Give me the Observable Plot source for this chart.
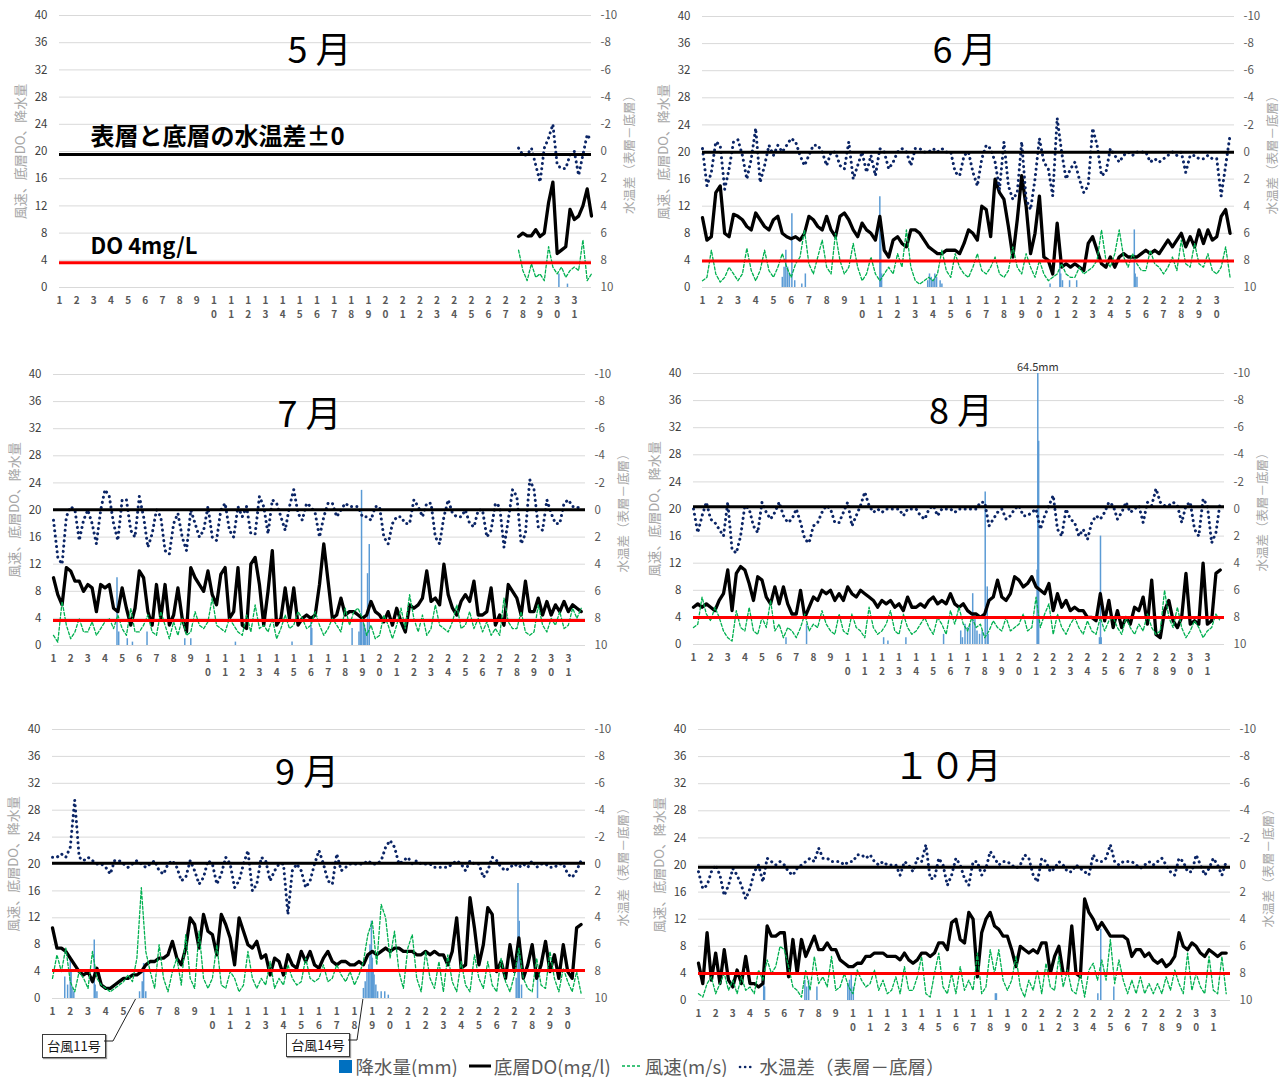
<!DOCTYPE html>
<html><head><meta charset="utf-8">
<script src="https://cdn.jsdelivr.net/npm/d3@7"></script>
<script src="https://cdn.jsdelivr.net/npm/@observablehq/plot@0.6"></script>
<style>
body{margin:0;background:#fff;font-family:"Noto Sans CJK JP","Noto Sans",sans-serif;}
#root{position:relative;width:1283px;height:1077px;overflow:hidden;background:#fff;}
.callout{position:absolute;border:1px solid #3a3a3a;background:#fff;font-size:13px;line-height:21px;text-align:center;color:#111;box-shadow:1px 1px 1px #999;}
#legend{position:absolute;left:0;top:1055px;width:1283px;height:21px;display:flex;justify-content:center;align-items:center;font-size:18.5px;line-height:20px;color:#595959;white-space:nowrap;}
#legend .li{display:flex;align-items:center;margin:0 5px;}
#legend svg{margin-right:2px;}
</style></head><body><div id="root"></div>
<script>
// ---------- text ----------
const monthTitles = ["5 月", "6 月", "7 月", "8 月", "9 月", "１０月"];
const leftAxisTitle = "風速、底層DO、降水量";
const rightAxisTitle = "水温差（表層－底層）";
const legendLabels = ["降水量(mm)", "底層DO(mg/l)", "風速(m/s)", "水温差（表層－底層）"];
const typhoonLabels = ["台風11号", "台風14号"];
const typhoonDays = [5.7, 18.5];
const mayNotes = ["表層と底層の水温差±0", "DO 4mg/L"];

// ---------- axes ----------
const leftTicks = [0, 4, 8, 12, 16, 20, 24, 28, 32, 36, 40];
const daysInMonth = [31, 30, 31, 31, 30, 31];
const sampleStart = [27.75, 1, 1, 1, 1, 1];   // day of first sample
const sampleStep = 0.25;                     // 6-hourly readings

// reference lines (left-axis units, as drawn)
const zeroLineLevel = [19.55, 19.95, 20.05, 20.35, 20.1, 19.65];
const do4Level = [3.65, 3.9, 3.7, 4.0, 4.15, 4.0];

// ---------- May ----------
const doMay = [7.5, 8.0, 7.6, 7.6, 8.5, 7.5, 8.0, 12.5, 15.5, 5.0, 5.5, 6.0, 11.5, 10.0, 10.5, 12.0, 14.5, 10.5];
const windMay = [5.5, 2.5, 1.0, 3.5, 1.5, 2.0, 1.0, 6.0, 3.0, 2.0, 3.0, 1.5, 2.5, 3.0, 2.5, 7.0, 1.0, 2.0];
const tdMay = [-0.25, 0.25, 0.25, -0.25, 1, 2.25, -0.25, -1, -2, 1, 1.25, 1.25, 0.25, 0, 1.75, 0.25, -1.25, -0.75];
const rainDayMay = [30.1, 30.6];
const rainMmMay = [2.0, 0.5];

// ---------- June ----------
const doJun = [
 10.3,7.0,7.5,14.0, 15.0,8.0,7.5,10.8, 10.5,10.0,9.0,8.5, 11.0,10.0,9.0,8.5,
 10.0,10.5,8.0,7.5, 7.2,7.5,7.0,8.0, 10.5,10.0,9.0,8.5, 10.5,8.5,7.5,10.5,
 11.0,10.0,8.5,7.5, 9.5,8.5,8.0,7.0, 10.5,5.5,4.5,7.0, 7.5,6.5,6.0,8.5,
 8.5,8.0,7.0,6.0, 5.5,5.0,5.0,5.5, 5.5,5.5,5.0,6.5, 8.5,8.0,7.0,12.0,
 11.5,7.5,16.0,14.0, 13.0,9.0,4.5,10.0, 16.5,12.0,5.0,8.0, 13.5,4.5,4.0,2.0,
 9.5,3.0,3.5,3.0, 3.5,3.0,2.5,6.5, 7.5,5.5,3.5,3.0, 4.5,3.0,4.5,5.0,
 4.5,4.5,4.5,5.0, 5.5,5.0,5.5,5.0, 6.0,7.0,6.0,7.0, 8.0,6.0,7.5,6.0,
 8.5,6.5,8.5,7.0, 7.5,10.5,11.5,8.0];
const windJun = [
 1.0,1.5,5.5,2.0, 0.8,1.5,3.0,2.0, 1.0,2.0,5.8,2.5, 1.0,2.5,5.5,2.5,
 1.5,3.0,5.0,3.0, 1.5,3.5,4.5,8.5, 3.5,2.0,4.5,7.0, 3.0,2.0,8.0,4.0,
 2.0,3.0,6.5,3.0, 1.0,2.0,4.5,2.0, 1.0,2.0,3.0,2.0, 5.0,3.0,8.5,3.0,
 1.0,0.5,1.0,1.5, 1.0,2.0,5.5,2.5, 1.5,5.0,3.0,2.0, 1.5,3.0,5.0,2.5,
 2.0,3.0,4.5,2.0, 1.5,2.5,6.0,3.0, 2.0,5.0,3.0,1.5, 4.0,2.0,1.0,1.5,
 2.0,3.5,2.0,1.5, 1.5,3.0,2.0,2.5, 3.0,4.0,8.5,4.0, 3.0,5.0,8.5,4.5,
 3.0,5.0,3.5,2.5, 2.5,5.5,3.5,3.0, 2.0,3.0,4.5,2.5, 7.0,3.5,3.0,6.5,
 3.5,3.0,5.0,2.5, 2.0,3.0,6.0,1.5];
const tdJun = [
 -0.25,2.5,1.5,-0.75, -0.5,2.75,1.25,-0.75, -0.9,0.25,2,0.5, -1.75,2.25,1.0,-0.5,
 0.25,-0.5,0,-0.5, -1,-0.75,0.25,1, 0.25,-0.5,-0.5,0, 1,0,0,1,
 1.25,-0.75,2,1, 0,1.5,0.25,1.75, -0.25,0,1.25,0.75, 0,-0.25,0,1,
 -0.25,-0.25,0,0, -0.25,0,-0.25,0, 0,1.5,1.75,0.25, 0,1.5,2.5,0.5,
 -0.5,-0.25,0.75,2.75, -0.75,2.5,3.5,3, -0.75,3.5,4.25,2, -1,0.75,1.25,3.25,
 -2.5,0,2,1.25, 0.75,2,3,2.5, -1.75,-0.5,1.75,1.5, -0.25,0.25,0.75,0.25,
 0,0.25,0,0, 0,0.75,0.5,0.75, 0.5,0.25,0,0.25, 0,1.5,0.25,0.25,
 0.5,0.5,0.25,0.5, 0.5,3.25,1.0,-1.25];
const rainDayJun = [5.5, 5.6, 5.7, 5.8, 5.9, 6.04, 6.2, 6.6, 6.8, 11.0, 11.05, 11.1, 13.7, 13.8, 13.9, 14.0, 14.1, 14.2, 14.4, 14.5, 20.6, 21.15, 21.2, 21.3, 21.7, 22.1, 25.35, 25.4, 25.5];
const rainMmJun = [1.5, 3.0, 5.5, 3.0, 2.0, 10.9, 1.0, 0.5, 2.0, 13.4, 8.0, 2.0, 1.0, 2.0, 1.5, 1.0, 2.0, 1.5, 1.0, 0.5, 0.5, 4.0, 2.0, 1.0, 1.0, 1.0, 8.5, 2.0, 1.5];

// ---------- July ----------
const doJul = [
 10.0,7.5,6.0,11.5, 11.0,9.5,9.5,8.0, 9.0,8.5,5.0,9.0, 8.5,9.0,5.5,5.0,
 8.5,5.5,3.0,5.5, 11.0,10.0,5.0,3.0, 9.0,4.0,9.0,3.0, 4.5,8.5,4.0,2.0,
 11.5,10.0,9.0,8.0, 11.0,7.5,6.0,10.5, 11.5,4.0,5.0,11.5, 3.0,2.5,12.0,13.0,
 9.0,3.0,8.0,14.0, 3.0,4.0,8.5,4.0, 8.5,3.0,4.0,4.5, 4.0,4.5,9.0,15.0,
 9.5,4.0,4.5,7.0, 4.5,5.0,5.0,4.5, 4.0,4.5,6.5,5.0, 4.5,3.5,5.0,3.0,
 5.5,3.5,2.0,6.0, 5.5,6.0,7.0,11.0, 6.5,7.0,6.0,12.0, 7.5,5.5,4.5,6.5,
 7.5,6.5,9.5,4.5, 4.5,5.0,8.5,3.0, 4.5,3.0,9.0,8.0, 7.0,4.5,9.5,5.0,
 5.0,7.0,4.5,6.5, 4.5,6.0,5.0,6.5, 5.0,6.0,5.5,5.0];
const windJul = [
 1.5,0.5,6.5,3.0, 1.0,2.0,4.0,2.0, 2.0,3.5,1.5,2.5, 3.5,4.0,2.5,4.5,
 2.5,1.5,5.5,2.0, 2.0,3.0,4.5,2.0, 1.5,5.0,3.0,1.0, 3.5,1.5,4.0,1.5,
 2.0,5.0,3.0,2.5, 3.5,7.0,3.0,2.5, 2.0,4.0,3.0,2.0, 1.5,4.5,2.0,6.0,
 2.5,3.0,2.0,4.0, 1.0,2.5,4.5,2.5, 3.0,5.0,4.0,2.5, 3.0,5.0,3.0,1.5,
 2.5,4.0,3.0,2.0, 5.5,3.0,5.0,5.5, 4.0,1.5,3.0,1.0, 1.5,4.5,3.0,1.0,
 3.0,5.5,2.5,7.5, 4.0,2.0,4.5,1.5, 2.5,6.0,3.0,2.5, 2.0,3.5,6.0,2.5,
 3.0,5.0,2.5,4.0, 2.0,3.5,1.5,2.5, 1.5,7.0,3.5,2.5, 2.5,5.0,2.0,1.5,
 2.0,6.0,3.0,2.0, 4.0,3.0,5.0,2.5, 3.0,5.5,4.0,5.5];
const tdJul = [
 0.75,3.5,4,0.5, -0.25,0,2.25,0.75, 0,1,2.5,0, -1.5,-1,1,2.25,
 -0.75,-0.75,1.5,2, -1,0.5,2.75,1.75, 0,0.5,3,3.25, 1,0.25,2,3,
 0,1,2,1.5, -0.25,2,2.25,0, -0.5,1.5,2,-0.25, 0.5,-0.25,1.75,1.75,
 -1,-0.25,1.75,-0.75, -0.5,0.5,1.5,-0.25, -1.5,0.25,0.75,-0.5, -0.25,0.25,2,0.5,
 -0.5,-0.5,0.5,0, -0.5,-0.25,-0.25,-0.25, 0.5,0.5,0.75,-0.25, -0.25,2,2.5,1,
 0.5,0.5,1,1, -0.75,-0.25,0.5,-0.5, -0.5,2,2.5,0.5, -0.75,0.25,0.5,0.5,
 0,1,1.25,0, 0,2,1.5,-0.5, -0.25,2.75,0.75,-1.5, -1,2.5,1.75,-2.25,
 -1.5,1.25,1.5,-0.75, 0.25,1,1,-0.5, -0.75,-0.25,-0.25,0];
const rainDayJul = [4.7, 4.8, 5.3, 5.6, 6.45, 8.65, 9.0, 11.6, 14.9, 16.0, 16.05, 18.4, 18.8, 18.88, 18.95, 19.05, 19.12, 19.2, 19.3, 19.4];
const rainMmJul = [10.0, 2.0, 1.0, 0.5, 2.0, 1.0, 1.0, 0.5, 0.5, 3.5, 2.5, 2.5, 2.0, 3.5, 22.9, 4.0, 3.0, 2.0, 10.6, 14.9];

// ---------- August ----------
const doAug = [
 5.5,6.0,5.5,6.0, 5.5,5.0,6.5,7.5, 11.0,5.0,10.5,11.5, 11.0,9.0,6.5,10.0,
 9.5,7.0,6.0,8.5, 6.0,8.5,6.0,4.5, 4.5,8.0,4.0,5.5, 7.0,6.5,8.0,7.5,
 8.0,6.5,7.5,6.5, 8.5,7.5,7.0,8.0, 7.5,7.0,6.5,5.5, 6.5,6.0,6.5,5.5,
 6.0,5.0,7.0,5.5, 5.5,6.0,5.5,6.5, 7.0,6.0,6.5,6.0, 7.5,6.0,5.5,6.0,
 5.0,4.5,4.5,4.0, 4.5,6.5,7.0,9.5, 7.0,6.5,7.5,10.0, 9.5,8.5,9.0,10.0,
 8.5,8.0,7.5,9.0, 5.0,7.5,5.5,6.5, 5.0,5.5,5.0,5.0, 4.0,4.0,3.5,7.5,
 3.5,6.5,2.5,5.0, 2.5,4.0,3.0,5.5, 5.0,7.0,3.0,9.5, 1.5,1.0,5.0,6.5,
 3.5,2.5,4.0,10.5, 3.0,3.5,3.0,12.0, 3.0,3.5,10.5,11.0];
const windAug = [
 2.5,3.0,7.0,4.5, 3.5,5.5,4.0,2.0, 1.0,0.5,5.0,2.5, 2.0,5.5,2.0,1.5,
 4.0,2.5,6.5,2.0, 3.0,1.0,2.5,2.0, 1.0,2.5,4.5,2.0, 3.0,2.5,5.0,3.0,
 2.0,1.5,4.5,2.0, 1.5,4.5,2.5,2.0, 1.0,5.5,2.5,1.5, 2.0,3.0,5.0,2.0,
 1.5,4.5,2.5,1.5, 2.0,3.0,4.0,2.5, 1.5,4.0,3.0,1.5, 5.0,3.0,5.5,3.0,
 2.0,4.0,2.5,3.0, 1.0,2.0,3.5,2.5, 2.0,4.0,2.0,2.5, 3.0,4.5,2.0,2.5,
 7.0,2.5,4.5,6.0, 1.5,4.5,2.5,1.5, 3.0,4.0,2.5,1.5, 3.5,2.0,1.5,4.0,
 2.0,3.5,4.0,2.5, 1.5,4.0,2.5,1.5, 3.0,2.0,4.5,2.5, 1.5,2.0,8.0,4.0,
 2.5,5.5,2.5,1.0, 2.0,3.5,2.5,1.0, 2.0,2.5,4.5,3.5];
const tdAug = [
 0,1.75,0.5,-0.5, 0.75,1,1.5,2, -0.5,3,3.25,2, -0.25,0,1.25,1.75,
 -0.5,0.25,0.75,0.25, -0.5,0.5,1,0.75, 0,1,2.25,2.5, 1.25,1,0.25,-0.25,
 0,1,1,0.25, -0.5,1.25,0.5,-0.25, -1.25,-0.25,0.25,0, 0.25,0,0,0,
 0,0.5,0,0, 0,0.5,0.75,0, -0.25,0.5,0,0, 0,0.25,0,0,
 0,0,0,-0.5, -0.5,1.25,0.75,0.25, 0,0.75,0.5,0, -0.25,0.5,0.5,0.25,
 0,1.5,0.5,-0.25, -1,1.5,2,0, 0.75,1,2,1.5, 2.25,1,0.5,0.75,
 0.25,-0.5,-0.25,0.75, 0.25,-0.5,0.25,0, -0.25,1,-0.5,-0.25, -1.5,-0.5,-0.25,-0.25,
 -0.5,-0.25,1,-0.25, -0.5,1.5,2,-0.75, -0.25,2.5,1.75,-0.5];
const rainDayAug = [6.4, 7.6, 12.1, 12.35, 13.4, 15.6, 16.6, 16.7, 16.85, 17.0, 17.14, 17.3, 17.43, 17.55, 17.7, 17.85, 18.03, 18.15, 18.2, 21.06, 21.1, 21.15, 24.7, 24.76, 24.8];
const rainMmAug = [1.0, 3.0, 1.0, 0.5, 1.0, 1.5, 2.0, 1.0, 3.0, 2.5, 3.0, 7.5, 4.0, 2.0, 1.5, 2.0, 22.5, 8.5, 1.5, 11.0, 64.5, 30.0, 1.0, 16.0, 1.0];

// ---------- September ----------
const doSep = [
 10.5,7.5,7.5,7.0, 6.0,5.0,4.0,3.5, 4.0,2.5,4.5,2.0, 1.5,1.5,2.0,2.5,
 3.0,3.0,3.5,3.5, 4.0,5.0,5.5,5.5, 6.0,6.0,6.5,8.5, 6.0,5.0,7.5,12.0,
 11.0,7.5,12.5,10.0, 9.5,6.5,12.5,11.0, 9.0,5.0,12.0,10.0, 8.0,7.5,8.5,6.0,
 6.5,3.5,6.0,5.5, 3.5,6.5,5.0,4.5, 7.0,5.5,7.0,5.0, 4.5,6.0,7.0,5.5,
 5.0,5.5,5.5,5.0, 5.0,5.5,5.0,6.5, 7.0,6.5,7.0,7.5, 7.0,7.5,7.5,7.0,
 7.0,7.0,6.5,6.5, 7.0,6.5,7.0,6.5, 6.5,5.0,7.0,12.0, 4.5,5.0,15.0,10.5,
 5.0,8.0,13.5,12.5, 4.0,5.5,3.0,8.0, 4.0,9.0,3.0,5.0, 8.0,3.0,5.0,8.5,
 4.0,6.5,3.0,8.0, 4.0,3.0,10.5,11.0];
const windSep = [
 3.0,6.5,4.0,7.5, 2.5,1.0,4.0,3.0, 1.5,7.0,3.0,2.0, 1.5,1.0,1.5,2.0,
 2.5,3.5,2.5,6.0, 16.5,7.0,4.0,1.5, 8.0,3.0,1.0,4.0, 6.0,2.0,9.5,3.0,
 1.5,10.0,3.0,1.5, 3.0,8.0,2.0,1.5, 4.0,3.0,1.0,2.0, 7.0,3.0,1.5,3.0,
 2.0,5.5,1.5,3.0, 2.0,5.0,3.0,2.0, 2.5,6.0,3.0,2.5, 3.0,5.0,2.5,3.0,
 5.0,3.5,2.5,4.0, 2.0,3.5,5.5,9.5, 11.5,5.0,14.0,12.0, 6.0,10.0,4.0,1.5,
 7.5,9.5,3.0,1.0, 7.0,3.0,1.5,5.5, 1.0,6.5,2.5,1.0, 5.5,2.0,1.0,6.5,
 3.0,1.5,5.5,2.0, 1.0,6.0,2.5,1.0, 3.5,7.5,3.0,1.5, 1.0,6.0,2.0,1.5,
 7.0,3.0,1.0,4.5, 2.5,1.0,4.0,0.8];
const tdSep = [
 -0.5,-0.5,-0.75,-0.5, -1.25,-4.75,-0.5,-0.25, -0.5,-0.25,0,0, 0.25,0.75,-0.25,-0.25,
 0,0.25,0,-0.25, 0,0.25,0,-0.25, 0.5,0.75,0,-0.25, 0.25,1.25,1,-0.25,
 0.5,1.5,1,-0.25, 0,1.5,0.75,-0.5, 0,1.75,1.25,0, -1,2,1.5,-0.5,
 -0.25,1.25,0.5,0, 0,3.75,0.5,0, 0.5,1.75,1.25,0, -1,0,1.25,1.5,
 -0.75,0.5,0.25,0, 0,0,0,-0.25, 0,0,-0.25,-1.25, -1.75,-1.25,0,-0.25,
 -0.5,0,-0.25,0, 0,0,0.25,0.25, 0.25,0.25,0,-0.25, 0,0.5,-0.25,0,
 0,1,0.5,-0.5, -0.25,0.25,0.5,0.25, 0,0.25,0,0.25, -0.25,0.25,0,0,
 0.25,0.25,0,0, 0.75,1,0.5,-0.25];
const rainDaySep = [1.69, 1.85, 2.0, 2.05, 2.1, 2.2, 3.35, 3.4, 3.5, 5.9, 6.05, 6.13, 6.25, 18.5, 18.6, 18.7, 18.8, 18.87, 18.95, 19.0, 19.05, 19.1, 19.2, 19.3, 19.5, 19.7, 19.9, 27.1, 27.2, 27.24, 27.27, 27.4, 28.3];
const rainMmSep = [3.2, 2.0, 6.0, 4.0, 1.5, 1.0, 8.7, 2.0, 1.0, 1.0, 2.5, 5.2, 1.0, 1.5, 2.5, 4.0, 5.0, 8.0, 11.5, 6.0, 4.0, 3.5, 2.0, 1.0, 1.0, 1.0, 0.5, 3.0, 17.1, 5.0, 11.5, 2.0, 3.2];

// ---------- October ----------
const doOct = [
 5.5,2.5,10.0,3.0, 7.0,2.5,7.5,3.0, 2.0,4.5,2.5,6.5, 2.5,2.5,2.0,2.5,
 11.0,9.5,9.5,10.0, 10.0,3.5,9.0,4.0, 9.0,6.5,8.0,9.5, 7.5,7.5,8.5,7.5,
 7.5,6.0,5.5,5.0, 5.0,5.5,5.5,6.5, 6.5,7.0,7.0,7.0, 6.5,6.5,6.5,6.0,
 7.0,6.0,5.5,6.0, 7.0,7.0,6.5,7.0, 8.5,8.5,7.5,11.5, 12.0,9.0,8.5,13.0,
 12.0,3.5,10.0,12.0, 13.0,11.0,10.5,9.5, 9.5,7.5,5.0,8.0, 7.5,7.0,7.5,7.0,
 8.5,8.5,4.0,6.5, 8.0,4.0,4.0,11.0, 4.0,3.5,15.0,13.0, 12.0,10.5,11.5,10.5,
 9.5,9.5,9.5,9.5, 9.0,6.5,7.5,7.5, 6.5,7.0,6.0,5.5, 6.0,5.0,5.5,6.5,
 10.0,8.0,7.5,8.5, 8.0,7.0,6.5,7.5, 7.0,6.5,7.0,7.0];
const windOct = [
 1.0,0.5,2.5,3.5, 1.0,2.5,4.0,1.5, 3.0,1.0,3.5,1.5, 2.0,1.0,4.5,3.0,
 6.0,4.0,5.0,8.0, 7.5,5.0,2.0,1.5, 0.5,4.5,1.5,6.5, 2.5,3.5,2.0,6.5,
 1.5,2.0,4.0,2.0, 1.0,4.5,3.0,2.0, 2.5,4.5,1.5,3.0, 1.0,1.5,3.5,1.0,
 5.0,1.5,1.5,3.5, 6.5,1.0,0.5,4.0, 7.0,2.0,1.0,4.0, 1.0,5.0,1.5,3.0,
 1.5,7.0,1.0,2.0, 7.5,4.0,7.5,3.0, 1.5,3.0,6.5,2.0, 0.5,3.0,1.5,4.5,
 1.0,5.5,2.0,1.5, 6.5,2.0,4.5,1.5, 1.0,4.0,0.5,4.5, 5.5,3.0,6.0,3.0,
 9.0,2.5,6.0,3.0, 1.0,3.0,1.0,3.5, 1.0,2.5,1.0,2.5, 1.0,3.5,1.5,4.5,
 2.5,1.0,7.0,1.5, 4.0,2.0,1.0,6.5, 1.5,1.0,6.5,1.0];
const tdOct = [
 0.5,1.75,1.5,0.5, 0,0.75,2.25,1.5, 0.25,0.75,1.5,2.5, 1.75,0.5,0,1.25,
 -0.5,-0.25,0,-0.25, 0,0.5,0.75,0.25, 0,-0.25,-0.5,-0.25, -1.25,-0.5,-0.5,-0.25,
 -0.25,-0.25,0,-0.25, -0.25,-0.75,-0.75,-0.5, -0.75,-0.25,0,-0.25, 0,0,0,0.75,
 -0.25,0,0.5,-0.5, -0.25,-1.5,1,1, -0.5,0,1.5,0.75, -0.5,0,1,1.5,
 -0.25,-0.25,0.75,0.25, -1,-0.5,0,-0.25, -0.25,0,0.25,0, -0.75,-0.5,0.75,1.25,
 -0.5,-0.25,0.5,0.25, -0.25,0,0.5,0.5, 0,0.25,0.5,0.75, -0.75,-0.25,-0.25,-0.5,
 -1.5,-0.25,0,-0.25, -0.25,-0.25,0,0.25, 0,-0.25,0,-0.25, -0.5,0,0.5,0.75,
 -0.5,-0.25,0.5,0.5, -0.75,0,0.75,0.25, -0.5,0,0.75,-0.25];
const rainDayOct = [4.8, 4.85, 7.2, 7.3, 7.42, 7.9, 9.7, 9.8, 9.9, 10.02, 18.3, 18.36, 24.27, 24.44, 25.2];
const rainMmOct = [3.0, 2.0, 3.0, 2.0, 3.0, 2.0, 2.5, 3.0, 4.0, 2.0, 1.0, 1.0, 1.0, 10.5, 2.0];

// ---------- series per panel ----------
const doSeries = [doMay, doJun, doJul, doAug, doSep, doOct];
const windSeries = [windMay, windJun, windJul, windAug, windSep, windOct];
const tdSeries = [tdMay, tdJun, tdJul, tdAug, tdSep, tdOct];
const rainDays = [rainDayMay, rainDayJun, rainDayJul, rainDayAug, rainDaySep, rainDayOct];
const rainMm = [rainMmMay, rainMmJun, rainMmJul, rainMmAug, rainMmSep, rainMmOct];

// ---------- layout (page pixels of each plot frame) ----------
const frames = [
  {x0: 59, x1: 591, yTop: 15, yBot: 287},
  {x0: 702, x1: 1234, yTop: 16, yBot: 287},
  {x0: 53, x1: 585, yTop: 374, yBot: 645},
  {x0: 693, x1: 1224, yTop: 373, yBot: 644},
  {x0: 52, x1: 585, yTop: 729, yBot: 998},
  {x0: 698, x1: 1230, yTop: 729, yBot: 1000}
];
const titleOffsets = [[-6, 36], [-4, 35], [-10, 41], [2, 39], [-12, 44], [-17, 38]];
const M = {l: 62, r: 62, t: 30, b: 50};
const FONT = "Noto Sans CJK JP, Noto Sans, sans-serif";

const root = document.getElementById("root");
const scalesByPanel = [];

function series(arr, k) {
  return arr.map((v, i) => ({t: sampleStart[k] + i * sampleStep, v}));
}

frames.forEach((f, k) => {
  const n = daysInMonth[k];
  const w = f.x1 - f.x0 + M.l + M.r;
  const h = f.yBot - f.yTop + M.t + M.b;
  const rain = rainDays[k].map((t, i) => ({t, v: rainMm[k][i]}));
  const marks = [
    Plot.gridY(leftTicks, {stroke: "#d9d9d9", strokeOpacity: 1, strokeWidth: 1}),
    Plot.axisY(leftTicks, {anchor: "left", tickSize: 0, tickPadding: 12, fontSize: 11.5, fill: "#404040", label: null}),
    Plot.axisY(leftTicks, {anchor: "right", tickSize: 0, tickPadding: 9, fontSize: 11.5, fill: "#595959", label: null,
      tickFormat: d => String((20 - d) / 2)}),
    Plot.axisX(d3.range(1, n + 1), {tickSize: 0, tickPadding: 7, fontSize: 10, fontWeight: "bold", fill: "#595959",
      lineHeight: 1.4, label: null, tickFormat: d => String(d).split("").join("\n")}),
    Plot.ruleX(rain, {x: "t", y1: 0, y2: "v", stroke: "#5b9bd5", strokeWidth: 1.5, clip: true}),
    Plot.lineY(series(doSeries[k], k), {x: "t", y: "v", stroke: "#000", strokeWidth: 3.3, strokeLinejoin: "round"}),
    Plot.lineY(series(windSeries[k], k), {x: "t", y: "v", stroke: "#00b050", strokeWidth: 1.3, strokeDasharray: "3,2"}),
    Plot.lineY(series(tdSeries[k], k), {x: "t", y: d => 20 - 2 * d.v, stroke: "#0b2566", strokeWidth: 3,
      strokeDasharray: "0.1,5.2", strokeLinecap: "round"}),
    Plot.ruleY([zeroLineLevel[k]], {stroke: "#000", strokeWidth: 3}),
    Plot.ruleY([do4Level[k]], {stroke: "#ff0000", strokeWidth: 3}),
    Plot.text(rain.filter(d => d.v > 40), {x: "t", frameAnchor: "top", text: d => d.v + "mm", dy: -3,
      lineAnchor: "bottom", fontSize: 11, fill: "#333"}),
    Plot.text([monthTitles[k]], {frameAnchor: "top", dx: titleOffsets[k][0], dy: titleOffsets[k][1],
      lineAnchor: "middle", fontSize: 36, fill: "#000"}),
    Plot.text([leftAxisTitle], {frameAnchor: "left", textAnchor: "middle", rotate: -90, dx: -39, fontSize: 13, fill: "#a6a6a6"}),
    Plot.text([rightAxisTitle], {frameAnchor: "right", textAnchor: "middle", rotate: -90, dx: 38, fontSize: 12.5, fill: "#a6a6a6"})
  ];
  if (k === 0) {
    marks.push(Plot.text([mayNotes[0]], {frameAnchor: "top-left", textAnchor: "start", lineAnchor: "top",
      dx: 31, dy: 112, fontSize: 24, fontWeight: "bold", fill: "#000", letterSpacing: 3}));
    marks.push(Plot.text([mayNotes[1]], {frameAnchor: "top-left", textAnchor: "start", lineAnchor: "top",
      dx: 31, dy: 223, fontSize: 22, fontWeight: "bold", fill: "#000"}));
  }
  const chart = Plot.plot({
    width: w, height: h,
    marginLeft: M.l, marginRight: M.r, marginTop: M.t, marginBottom: M.b,
    style: {background: "transparent", overflow: "visible", fontFamily: FONT},
    x: {domain: [1, n + 1]},
    y: {domain: [0, 40]},
    marks
  });
  chart.style.position = "absolute";
  chart.style.left = (f.x0 - M.l) + "px";
  chart.style.top = (f.yTop - M.t) + "px";
  chart.style.maxWidth = "none";
  root.appendChild(chart);
  scalesByPanel.push({x: chart.scale("x"), left: f.x0 - M.l, top: f.yTop - M.t});
});

// ---------- typhoon callouts (September panel) ----------
const boxes = [{left: 42, top: 1034, w: 62, h: 22}, {left: 286, top: 1033, w: 62, h: 22}];
const ns = "http://www.w3.org/2000/svg";
const over = document.createElementNS(ns, "svg");
over.setAttribute("width", 1283); over.setAttribute("height", 1077);
over.style.position = "absolute"; over.style.left = "0"; over.style.top = "0"; over.style.pointerEvents = "none";
const sx = scalesByPanel[4];
typhoonLabels.forEach((lab, i) => {
  const b = boxes[i];
  const px = sx.x.apply(typhoonDays[i]) + sx.left;
  const py = frames[4].yBot + 1;
  const p = document.createElementNS(ns, "polyline");
  const yMid = b.top + 7;
  p.setAttribute("points", `${b.left + b.w},${yMid} ${b.left + b.w + 9},${yMid} ${px},${py}`);
  p.setAttribute("fill", "none"); p.setAttribute("stroke", "#222"); p.setAttribute("stroke-width", "1");
  over.appendChild(p);
  const d = document.createElement("div");
  d.className = "callout";
  d.style.left = b.left + "px"; d.style.top = b.top + "px";
  d.style.width = b.w + "px"; d.style.height = b.h + "px";
  d.textContent = lab;
  root.appendChild(d);
});
root.appendChild(over);

// ---------- legend ----------
const leg = document.createElement("div");
leg.id = "legend";
const sym = [
  '<svg width="15" height="14"><rect x="0" y="1" width="13" height="13" fill="#0070c0"/></svg>',
  '<svg width="24" height="10"><line x1="1" x2="23" y1="5" y2="5" stroke="#000" stroke-width="3"/></svg>',
  '<svg width="22" height="10"><line x1="1" x2="21" y1="5" y2="5" stroke="#00b050" stroke-width="1.3" stroke-dasharray="3,2"/></svg>',
  '<svg width="20" height="10"><line x1="3" x2="18" y1="6" y2="6" stroke="#0b2566" stroke-width="2.6" stroke-dasharray="0.1,5" stroke-linecap="round"/></svg>'
];
legendLabels.forEach((lab, i) => {
  const s = document.createElement("span");
  s.className = "li";
  s.innerHTML = sym[i] + "<span>" + lab + "</span>";
  leg.appendChild(s);
});
root.appendChild(leg);
</script>
</body></html>
